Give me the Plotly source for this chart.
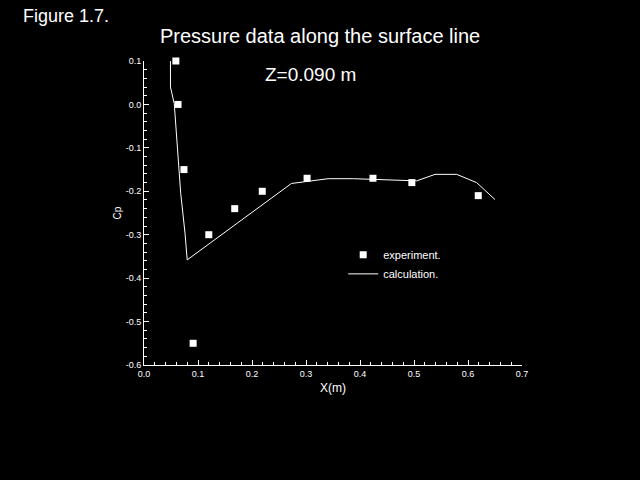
import plotly.graph_objects as go

exp_x = [0.059, 0.063, 0.074, 0.091, 0.120, 0.168, 0.219, 0.302, 0.424, 0.496, 0.619]
exp_cp = [0.10, 0.00, -0.15, -0.55, -0.30, -0.24, -0.20, -0.17, -0.17, -0.18, -0.21]

# Calculation line
calc_x = [0.049, 0.049, 0.056, 0.064, 0.068, 0.076, 0.080, 0.273, 0.311, 0.341, 0.388,
          0.431, 0.474, 0.505, 0.539, 0.579, 0.616, 0.650]
calc_cp = [0.10, 0.04, 0.002, -0.128, -0.205, -0.297, -0.358, -0.182, -0.176, -0.171, -0.171,
           -0.173, -0.174, -0.176, -0.161, -0.161, -0.180, -0.219]

x_ticks = [0.0, 0.1, 0.2, 0.3, 0.4, 0.5, 0.6, 0.7]
x_ticktext = ["0.0", "0.1", "0.2", "0.3", "0.4", "0.5", "0.6", "0.7"]
y_ticks = [0.1, 0.0, -0.1, -0.2, -0.3, -0.4, -0.5, -0.6]
y_ticktext = ["0.1", "0.0", "-0.1", "-0.2", "-0.3", "-0.4", "-0.5", "-0.6"]

FONT = "Liberation Sans, Arial, sans-serif"

fig = go.Figure()
fig.add_trace(go.Scatter(x=exp_x, y=exp_cp, mode="markers", name="experiment.",
                         marker=dict(symbol="square", size=7, color="white",
                                     line=dict(width=0)),
                         cliponaxis=False))
fig.add_trace(go.Scatter(x=calc_x, y=calc_cp, mode="lines", name="calculation.",
                         line=dict(color="white", width=1), cliponaxis=False))

axis_common = dict(
    showgrid=False, zeroline=False, showline=True, linecolor="white", linewidth=1,
    ticks="inside", ticklen=5, tickcolor="white", tickwidth=1,
    tickfont=dict(family=FONT, size=9, color="white"),
    minor=dict(ticks="inside", ticklen=3, tickcolor="white", tickwidth=1),
    mirror=False,
)

fig.update_layout(
    width=640, height=480,
    paper_bgcolor="black", plot_bgcolor="black",
    margin=dict(l=144, r=118, t=61, b=115),
    font=dict(family=FONT, color="white"),
    xaxis=dict(range=[0, 0.7], tickvals=x_ticks, ticktext=x_ticktext,
               title=dict(text="X(m)", font=dict(size=12, family=FONT, color="white"), standoff=5),
               **axis_common),
    yaxis=dict(range=[-0.6, 0.1], tickvals=y_ticks, ticktext=y_ticktext,
               title=dict(text="Cp", font=dict(size=10, family=FONT, color="white"), standoff=2),
               **axis_common),
    showlegend=True,
    legend=dict(x=0.527, y=0.41, xanchor="left", yanchor="top",
                bgcolor="rgba(0,0,0,0)", font=dict(family=FONT, size=11, color="white"),
                itemwidth=30, tracegroupgap=0),
)
fig.update_xaxes(minor_dtick=0.02)
fig.update_yaxes(minor_dtick=0.02)

fig.add_annotation(text="Figure 1.7.", xref="paper", yref="paper",
                   x=(21 - 144)/378, y=1 + (61 - 16)/304, xanchor="left", yanchor="middle",
                   showarrow=False, font=dict(family=FONT, size=18, color="white"))
fig.add_annotation(text="Pressure data along the surface line", xref="paper", yref="paper",
                   x=(320 - 144)/378, y=1 + (61 - 36)/304, xanchor="center", yanchor="middle",
                   showarrow=False, font=dict(family=FONT, size=20, color="white"))
fig.add_annotation(text="Z=0.090 m", xref="paper", yref="paper",
                   x=(263 - 144)/378, y=1 - (74 - 61)/304, xanchor="left", yanchor="middle",
                   showarrow=False, font=dict(family=FONT, size=19, color="white"))

fig.write_html("out.html", post_script="document.body.style.margin='0';",
               config={"displayModeBar": False})
